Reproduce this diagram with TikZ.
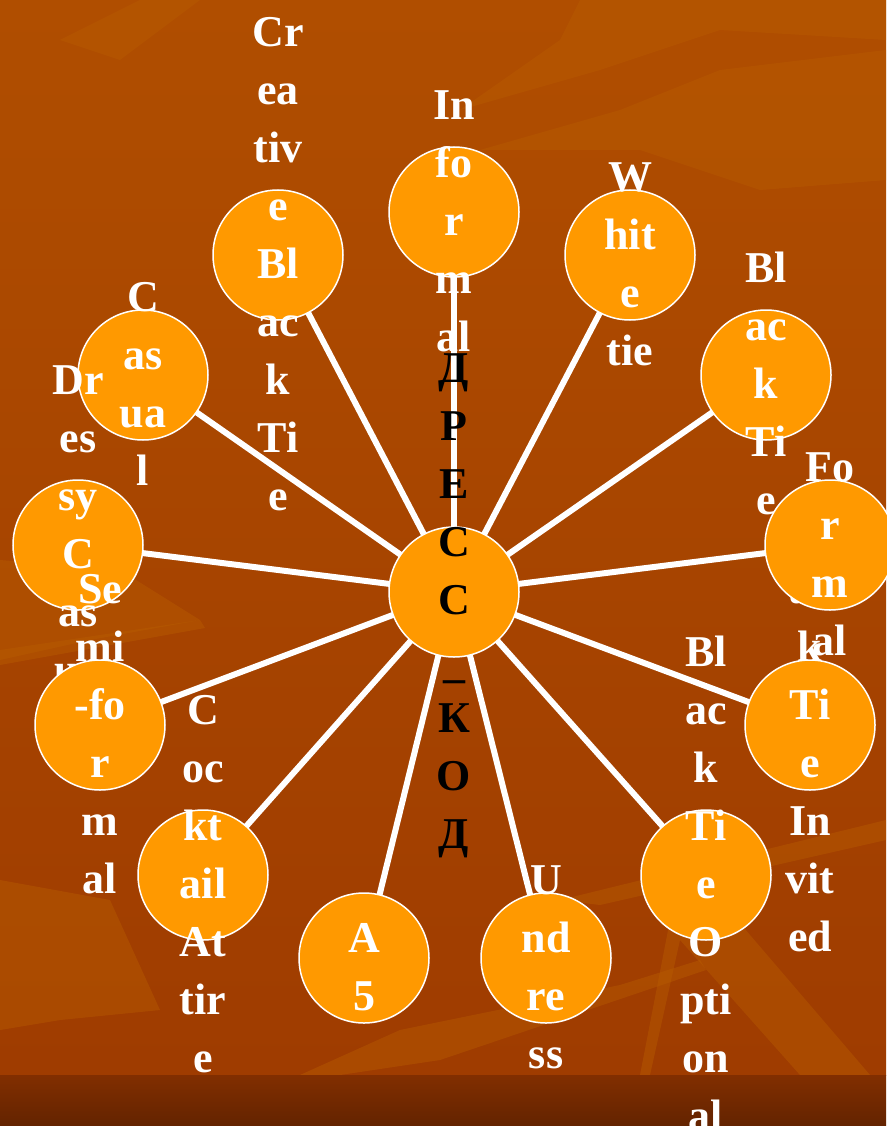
\documentclass[tikz,border=0pt]{standalone}
\usepackage{fontspec}
\setmainfont{Liberation Serif}
\usetikzlibrary{positioning}

\definecolor{fontop}{HTML}{B04E00}
\definecolor{fonbot}{HTML}{9F3C00}
\definecolor{fonstreak}{HTML}{B85C00}
\definecolor{polosa}{HTML}{7C2C00}
\definecolor{krug}{HTML}{FF9900}

\pgfdeclarelayer{fon}
\pgfdeclarelayer{luchi}
\pgfsetlayers{fon,luchi,main}

% text column that may run out of its circle
\newcommand{\stolb}[1]{\smash{\raisebox{-18pt}{\begin{tabular}[c]{@{}c@{}}#1\end{tabular}}}}

\tikzset{
  krugnode/.style={circle, draw=white, line width=1.5pt, fill=krug, minimum size=130pt,
    inner sep=0pt, text=white, font=\fontsize{44}{58}\selectfont\bfseries},
  hubnode/.style={krugnode, text=black},
  luch/.style={draw=white, line width=6pt},
  streak/.style={fill=fonstreak, opacity=0.45},
}

\begin{document}
\begin{tikzpicture}[x=1pt, y=-1pt]
  \useasboundingbox (0,0) rectangle (886,1126);

  % hub first, then the items going round counterclockwise from the top
  \node[hubnode] (hub) at (454,592) {\stolb{Д\\Р\\Е\\С\\С\\\raisebox{-20pt}{–}\\К\\О\\Д}};
  \node[krugnode] (inf) at (454,212) {\stolb{In\\fo\\r\\m\\al}};
  \node[krugnode] (crt) at (278,255) {\stolb{Cr\\ea\\tiv\\e\\Bl\\ac\\k\\Ti\\e}};
  \node[krugnode] (cas) at (143,375) {\stolb{C\\as\\ua\\l}};
  \node[krugnode] (drs) at (78,545)  {\stolb{Dr\\es\\sy\\C\\as\\ua\\l}};
  \node[krugnode] (smf) at (100,725) {\stolb{Se\\mi\\-fo\\r\\m\\al}};
  \node[krugnode] (ckt) at (203,875) {\stolb{C\\oc\\kt\\ail\\At\\tir\\e}};
  \node[krugnode] (afv) at (364,958) {\stolb{A\\5}};
  \node[krugnode] (und) at (546,958) {\stolb{U\\nd\\re\\ss}};
  \node[krugnode] (bto) at (706,875) {\stolb{Bl\\ac\\k\\Ti\\e\\O\\pti\\on\\al}};
  \node[krugnode] (bti) at (810,725) {\stolb{Bl\\ac\\k\\Ti\\e\\In\\vit\\ed}};
  \node[krugnode] (frm) at (830,545) {\stolb{Fo\\r\\m\\al}};
  \node[krugnode] (btk) at (766,375) {\stolb{Bl\\ac\\k\\Ti\\e}};
  \node[krugnode] (wht) at (630,255) {\stolb{W\\hit\\e\\tie}};

  % spokes under the circles
  \begin{pgfonlayer}{luchi}
    \foreach \n in {inf,crt,cas,drs,smf,ckt,afv,und,bto,bti,frm,btk,wht}
      \draw[luch] (hub.center) -- (\n.center);
  \end{pgfonlayer}

  % background
  \begin{pgfonlayer}{fon}
    \shade[top color=fontop, bottom color=fonbot] (0,0) rectangle (886,1075);
    \fill[streak] (140,0) -- (200,0) -- (120,60) -- (60,40) -- cycle;
    \fill[streak] (580,0) -- (886,0) -- (886,40) -- (720,30) -- (600,70) -- (460,110) -- (560,40) -- cycle;
    \fill[streak] (480,150) -- (620,110) -- (720,70) -- (886,50) -- (886,180) -- (760,190) -- (640,150) -- cycle;
    \fill[streak] (0,560) -- (120,570) -- (200,620) -- (90,640) -- (0,660) -- cycle;
    \fill[streak] (0,650) -- (200,620) -- (205,628) -- (0,665) -- cycle;
    \fill[streak] (0,1030) -- (60,1020) -- (160,1010) -- (110,900) -- (0,880) -- cycle;
    \fill[streak] (300,1075) -- (400,1030) -- (620,985) -- (700,960) -- (706,970) -- (440,1060) -- (340,1075) -- cycle;
    \fill[streak] (800,1075) -- (680,940) -- (650,1075) -- (640,1075) -- (670,920) -- (720,900) -- (870,1075) -- cycle;
    \fill[streak] (560,900) -- (886,820) -- (886,840) -- (600,905) -- cycle;
    \shade[top color=polosa!85!fonbot, bottom color=polosa!80!black] (0,1075) rectangle (886,1126);
  \end{pgfonlayer}
\end{tikzpicture}
\end{document}
